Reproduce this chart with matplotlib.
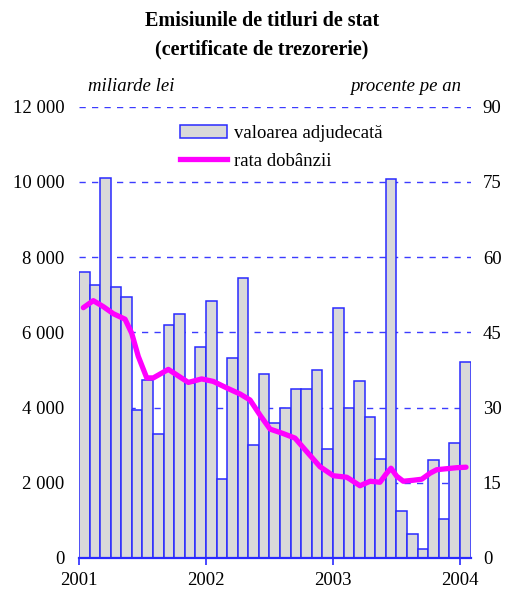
import matplotlib
matplotlib.use("Agg")
import matplotlib.pyplot as plt
from matplotlib.lines import Line2D
from matplotlib.patches import Patch

plt.rcParams['font.family'] = ['Liberation Serif', 'DejaVu Serif']

years = ['2001', '2002', '2003', '2004']
# monthly issues, Jan 2001 .. Jan 2004 (billion lei)
issues = [7600, 7250, 10100, 7200, 6950, 3930, 4720, 3290, 6190, 6490, 4650, 5600,
          6820, 2100, 5310, 7430, 3000, 4890, 3580, 4000, 4490, 4490, 4990, 2890,
          6640, 3980, 4710, 3740, 2630, 10070, 1260, 640, 250, 2600, 1040, 3050,
          5210]
# interest rate (% per year), position in months since Jan 2001
rate_t = [0.41, 1.35, 2.30, 3.24, 4.35, 4.98, 5.60, 6.40, 7.02, 8.44, 9.38, 10.33,
          11.59, 12.69, 13.96, 15.21, 16.16, 17.10, 18.05, 19.30, 20.41, 21.52,
          22.77, 24.03, 25.30, 25.61, 26.55, 27.50, 28.44, 29.07, 29.48, 30.02,
          30.64, 31.59, 32.38, 33.17, 33.80, 34.74, 35.69, 36.57]
rate_v = [49.9, 51.3, 50.1, 48.7, 47.6, 44.8, 40.2, 35.9, 35.9, 37.6, 36.3, 35.0,
          35.7, 35.2, 33.9, 32.7, 31.5, 28.5, 25.7, 24.8, 23.9, 21.2,
          18.2, 16.4, 16.1, 15.7, 14.4, 15.3, 15.1, 16.9, 17.9, 16.3,
          15.3, 15.5, 15.7, 16.9, 17.6, 17.8, 18.0, 18.1]

W, H = 505, 594
fig = plt.figure(figsize=(W / 100, H / 100), dpi=100)
ax = fig.add_axes([79 / W, 1 - 558 / H, (471 - 79) / W, (558 - 106.5) / H])
ax2 = ax.twinx()

blue = '#2a2aff'
fs = 13.5
months = list(range(len(issues)))
ax.bar(months, issues, width=1.0, align='edge', color='#d9d9d9',
       edgecolor=blue, linewidth=1.1, zorder=2)
ax.set_ylim(0, 12000)
ax.set_xlim(0, 37.04)
ax.set_yticks(range(0, 12001, 2000))
ax.set_yticklabels(['0', '2 000', '4 000', '6 000', '8 000', '10 000', '12 000'])
for yv in range(2000, 12001, 2000):
    ax.axhline(yv, color='#3c3cff', lw=1.0, dashes=(4.5, 4.5), zorder=1)
ax.set_xticks([0, 12, 24, 36])
ax.set_xticklabels(years)

for a in (ax, ax2):
    for s in ['top', 'left', 'right']:
        a.spines[s].set_visible(False)
ax.spines['bottom'].set_visible(False)
ax.axhline(0, color=blue, lw=1.6, zorder=5, clip_on=False)
ax.tick_params(axis='x', length=5, width=1.2, color=blue, labelsize=fs, pad=5)
ax.tick_params(axis='y', length=0, labelsize=fs, pad=10.5)

ax2.plot(rate_t, rate_v, color='#ff00ff', lw=3.8, solid_joinstyle='round',
         solid_capstyle='round', zorder=6)
ax2.set_ylim(0, 90)
ax2.set_yticks(range(0, 91, 15))
ax2.tick_params(axis='y', length=0, labelsize=fs, pad=8.5)
ax2.spines['bottom'].set_visible(False)
ax.set_zorder(1)
ax2.set_zorder(2)
ax2.patch.set_visible(False)

fig.text(262 / W, 1 - 21 / H, 'Emisiunile de titluri de stat', ha='center', va='center',
         fontsize=14.5, fontweight='bold')
fig.text(262 / W, 1 - 49 / H, '(certificate de trezorerie)', ha='center', va='center',
         fontsize=14.5, fontweight='bold')
fig.text(88 / W, 1 - 87 / H, 'miliarde lei', ha='left', va='center', fontsize=fs,
         style='italic')
fig.text(461 / W, 1 - 87 / H, 'procente pe an', ha='right', va='center', fontsize=fs,
         style='italic')

handles = [Patch(facecolor='#d9d9d9', edgecolor=blue, linewidth=1.1),
           Line2D([], [], color='#ff00ff', lw=3.8)]
ax2.legend(handles, ['valoarea adjudecată', 'rata dobânzii'], frameon=False,
           loc='upper left', bbox_to_anchor=(167 / W, 1 - 112 / H),
           bbox_transform=fig.transFigure, fontsize=fs, handlelength=2.5,
           handleheight=0.7, handletextpad=0.35, labelspacing=0.55, borderpad=0.2)

fig.savefig('out.png', dpi=100)
